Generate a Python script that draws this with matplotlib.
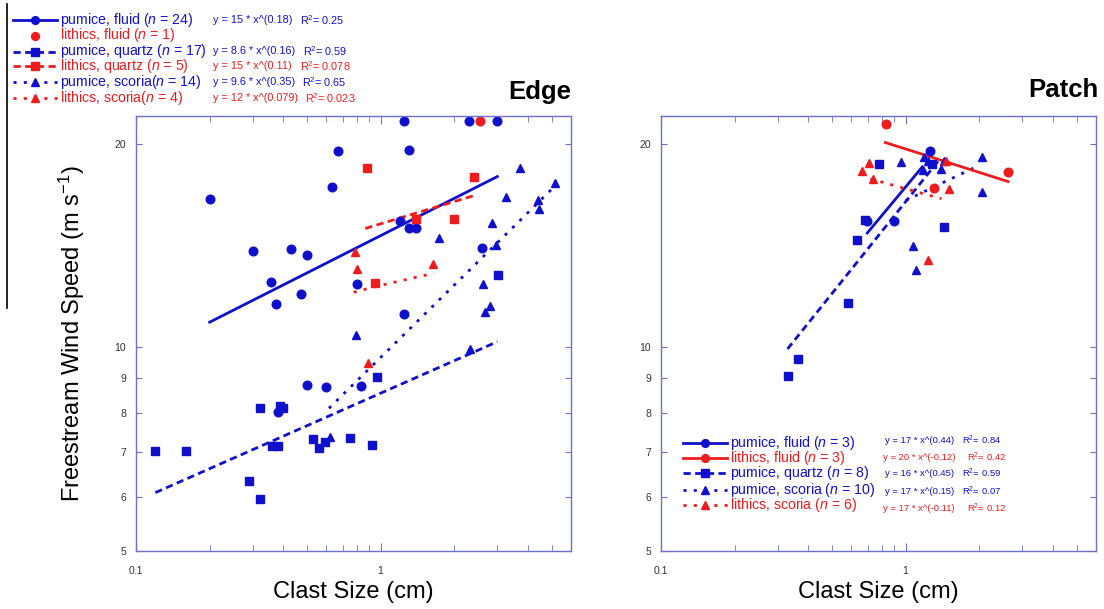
import numpy as np
import matplotlib
matplotlib.use('Agg')
import matplotlib.pyplot as plt
from matplotlib.lines import Line2D
from matplotlib.transforms import Affine2D

plt.rcParams['font.family'] = ['Liberation Sans', 'DejaVu Sans']
plt.rcParams['mathtext.fontset'] = 'custom'
plt.rcParams['mathtext.rm'] = 'Liberation Sans'
plt.rcParams['mathtext.it'] = 'Liberation Sans:italic'

BLUE = '#1010cc'
RED = '#ee1c1c'
SPINE = '#6e6ed2'

# ---- Edge data (clast size cm, wind speed m/s) ----
edge_pf_x = [0.20, 0.30, 0.355, 0.373, 0.43, 0.473, 0.50, 0.633, 0.667, 0.80, 1.245, 1.30,
             1.20, 1.30, 1.40, 1.245, 2.29, 2.99, 2.60, 0.50, 0.60, 0.831, 0.381]
edge_pf_y = [16.6, 13.9, 12.5, 11.6, 14.0, 12.0, 13.7, 17.3, 19.5, 12.4, 21.6, 19.6,
             15.4, 15.0, 15.0, 11.2, 21.6, 21.6, 14.05, 8.81, 8.75, 8.78, 8.02]
edge_lf_x = [2.54]
edge_lf_y = [21.6]
edge_pq_x = [3.03, 0.120, 0.160, 0.290, 0.320, 0.320, 0.388, 0.399, 0.359, 0.381, 0.529,
             0.558, 0.591, 0.750, 0.919, 0.963]
edge_pq_y = [12.8, 7.04, 7.04, 6.35, 5.96, 8.14, 8.19, 8.14, 7.15, 7.15, 7.33,
             7.10, 7.25, 7.35, 7.17, 9.05]
edge_lq_x = [0.877, 2.40, 1.40, 2.00, 0.948]
edge_lq_y = [18.4, 17.9, 15.5, 15.5, 12.45]
edge_ps_x = [3.72, 5.16, 3.26, 4.39, 4.42, 2.84, 1.74, 2.97, 2.62, 2.80, 2.68, 0.795, 2.31, 0.619]
edge_ps_y = [18.4, 17.5, 16.7, 16.5, 16.0, 15.3, 14.5, 14.2, 12.4, 11.5, 11.3, 10.44, 9.94, 7.37]
edge_ls_x = [0.788, 0.803, 1.635, 0.885]
edge_ls_y = [13.85, 13.05, 13.3, 9.47]

# fitted curves
edge_fit_pf = ([0.20, 3.0], [10.9, 17.9])
edge_fit_pq = ([0.12, 3.0], [6.1, 10.2])
edge_fit_lq = ([0.866, 2.44], [15.0, 16.8])
edge_fit_ps = ([0.615, 5.05], [8.13, 17.2])
edge_fit_ls = ([0.776, 0.948, 1.65], [12.07, 12.3, 12.88])

# ---- Patch data ----
patch_pf_x = [1.254, 0.697, 0.899]
patch_pf_y = [19.55, 15.36, 15.36]
patch_lf_x = [0.830, 1.30, 2.62]
patch_lf_y = [21.4, 17.2, 18.2]
patch_pq_x = [0.780, 1.277, 0.681, 0.632, 1.435, 0.581, 0.364, 0.332]
patch_pq_y = [18.67, 18.67, 15.44, 14.43, 15.08, 11.63, 9.61, 9.09]
patch_ps_x = [0.954, 1.188, 1.174, 1.39, 2.05, 2.05, 1.075, 1.099, 1.23, 1.44]
patch_ps_y = [18.8, 19.16, 18.3, 18.35, 19.16, 16.97, 14.14, 13.0, 18.9, 18.9]
patch_ls_x = [0.661, 0.706, 0.733, 1.46, 1.504, 1.23]
patch_ls_y = [18.27, 18.77, 17.76, 18.85, 17.18, 13.48]

patch_fit_pf = ([0.697, 1.17], [14.77, 18.5])
patch_fit_lf = ([0.826, 2.62], [20.1, 17.6])
patch_fit_pq = ([0.329, 1.37], [9.95, 18.94])
patch_fit_ps = ([1.0, 2.0], [16.5, 18.6])
patch_fit_ls = ([0.718, 1.40], [17.76, 16.6])

y_ticks = [5, 6, 7, 8, 9, 10, 20]
x_ticks = [0.1, 1]
x_minor = [0.2, 0.3, 0.4, 0.5, 0.6, 0.7, 0.8, 0.9, 2, 3, 4, 5]

SOLID = '-'
DASH = (0, (2.6, 1.6))
DOT = (0, (1.1, 2.6))

W, H = 1104, 609
fig = plt.figure(figsize=(W / 100, H / 100), dpi=100)
px = Affine2D().scale(1 / W, -1 / H).translate(0, 1) + fig.transFigure


def setup(ax):
    ax.set_xscale('log')
    ax.set_yscale('log')
    ax.set_xlim(0.1, 6)
    ax.set_ylim(5, 22)
    ax.set_yticks(y_ticks)
    ax.set_yticklabels([str(t) for t in y_ticks])
    ax.yaxis.set_minor_locator(matplotlib.ticker.NullLocator())
    ax.set_xticks(x_ticks)
    ax.set_xticklabels(['0.1', '1'])
    ax.set_xticks(x_minor, minor=True)
    ax.xaxis.set_minor_formatter(matplotlib.ticker.NullFormatter())
    for s in ax.spines.values():
        s.set_color(SPINE)
        s.set_linewidth(1.0)
    ax.tick_params(which='both', direction='in', top=True, right=True,
                   color=SPINE, labelsize=7.5, labelcolor='#333333')
    ax.tick_params(axis='x', which='major', length=6, pad=11)
    ax.tick_params(axis='x', which='minor', length=4.5)
    ax.tick_params(axis='y', which='major', length=4, pad=7)
    ax.set_xlabel('Clast Size (cm)', fontsize=17)
    ax.xaxis.set_label_coords(0.5, -0.068)


def pts(ax, x, y, color, marker, ms):
    ax.plot(x, y, linestyle='none', marker=marker, color=color, ms=ms, clip_on=False)


def fit(ax, f, color, ls):
    ax.plot(f[0], f[1], color=color, linestyle=ls, lw=2.0)


ax1 = fig.add_axes([136 / W, 1 - 551 / H, 435 / W, 435 / H])
setup(ax1)
fit(ax1, edge_fit_pf, BLUE, SOLID)
fit(ax1, edge_fit_pq, BLUE, DASH)
fit(ax1, edge_fit_ps, BLUE, DOT)
fit(ax1, edge_fit_lq, RED, DASH)
fit(ax1, edge_fit_ls, RED, DOT)
pts(ax1, edge_pf_x, edge_pf_y, BLUE, 'o', 6.2)
pts(ax1, edge_pq_x, edge_pq_y, BLUE, 's', 5.6)
pts(ax1, edge_ps_x, edge_ps_y, BLUE, '^', 6.0)
pts(ax1, edge_lf_x, edge_lf_y, RED, 'o', 6.2)
pts(ax1, edge_lq_x, edge_lq_y, RED, 's', 5.6)
pts(ax1, edge_ls_x, edge_ls_y, RED, '^', 6.0)
ax1.set_ylabel('Freestream Wind Speed (m s$^{-1}$)', fontsize=17)
ax1.yaxis.set_label_coords(-0.112, 0.5)
ax1.text(1.0, 1 + 17 / 435, 'Edge', transform=ax1.transAxes, ha='right',
         va='baseline', fontsize=18.5, fontweight='bold')

ax2 = fig.add_axes([661 / W, 1 - 551 / H, 435 / W, 435 / H])
setup(ax2)
fit(ax2, patch_fit_pf, BLUE, SOLID)
fit(ax2, patch_fit_pq, BLUE, DASH)
fit(ax2, patch_fit_ps, BLUE, DOT)
fit(ax2, patch_fit_lf, RED, SOLID)
fit(ax2, patch_fit_ls, RED, DOT)
pts(ax2, patch_pf_x, patch_pf_y, BLUE, 'o', 6.2)
pts(ax2, patch_pq_x, patch_pq_y, BLUE, 's', 5.6)
pts(ax2, patch_ps_x, patch_ps_y, BLUE, '^', 6.0)
pts(ax2, patch_lf_x, patch_lf_y, RED, 'o', 6.2)
pts(ax2, patch_ls_x, patch_ls_y, RED, '^', 6.0)
ax2.text(1.0 + 3 / 435, 1 + 19 / 435, 'Patch', transform=ax2.transAxes, ha='right',
         va='baseline', fontsize=18.5, fontweight='bold')


# ---- legends drawn in pixel coordinates ----
def legend_row(x0, x1, y, color, ls, marker, ms, label, eq, r2, eq_x, r2_x,
               eq_y=None, eq_fs=7.8):
    if ls is not None:
        fig.add_artist(Line2D([x0, x1], [y, y], transform=px, color=color,
                              linestyle=ls, lw=2.0))
    fig.add_artist(Line2D([(x0 + x1) / 2], [y], transform=px, color=color,
                          marker=marker, ms=ms, linestyle='none'))
    fig.text(x1 + 3, y, label, transform=px, color=color, fontsize=10.2,
             ha='left', va='center')
    if eq:
        ey = y if eq_y is None else eq_y
        fig.text(eq_x, ey, eq, transform=px, color=color, fontsize=eq_fs,
                 ha='left', va='center')
        fig.text(r2_x, ey, r2, transform=px, color=color, fontsize=eq_fs,
                 ha='left', va='center')


edge_rows = [
    (20, BLUE, SOLID, 'o', 'pumice, fluid ($n$ = 24)', 'y = 15 * x^(0.18)', 'R$^2$= 0.25', 300),
    (35.5, RED, None, 'o', 'lithics, fluid ($n$ = 1)', None, None, 0),
    (51.5, BLUE, DASH, 's', 'pumice, quartz ($n$ = 17)', 'y = 8.6 * x^(0.16)', 'R$^2$= 0.59', 303),
    (66, RED, DASH, 's', 'lithics, quartz ($n$ = 5)', 'y = 15 * x^(0.11)', 'R$^2$= 0.078', 300),
    (82, BLUE, DOT, '^', 'pumice, scoria($n$ = 14)', 'y = 9.6 * x^(0.35)', 'R$^2$= 0.65', 302),
    (98, RED, DOT, '^', 'lithics, scoria($n$ = 4)', 'y = 12 * x^(0.079)', 'R$^2$= 0.023', 305),
]
for y, c, ls, m, lab, eq, r2, rx in edge_rows:
    legend_row(13, 57, y, c, ls, m, 5.6, lab, eq, r2, 213, rx)

patch_rows = [
    (443.3, 440.7, BLUE, SOLID, 'o', 'pumice, fluid ($n$ = 3)', 'y = 17 * x^(0.44)', 'R$^2$= 0.84', 885, 962),
    (458.3, 457.3, RED, SOLID, 'o', 'lithics, fluid ($n$ = 3)', 'y = 20 * x^(-0.12)', 'R$^2$= 0.42', 883, 967),
    (473.3, 473.3, BLUE, DASH, 's', 'pumice, quartz ($n$ = 8)', 'y = 16 * x^(0.45)', 'R$^2$= 0.59', 885, 962),
    (490, 491, BLUE, DOT, '^', 'pumice, scoria ($n$ = 10)', 'y = 17 * x^(0.15)', 'R$^2$= 0.07', 885, 962),
    (505, 508.3, RED, DOT, '^', 'lithics, scoria ($n$ = 6)', 'y = 17 * x^(-0.11)', 'R$^2$= 0.12', 883, 967),
]
for y, ey, c, ls, m, lab, eq, r2, ex, rx in patch_rows:
    legend_row(683, 727, y, c, ls, m, 5.6, lab, eq, r2, ex, rx, eq_y=ey, eq_fs=6.8)

# thin black rule at the far left
fig.add_artist(Line2D([7.3, 7.3], [4, 308], transform=px, color='black', lw=1.2))

fig.savefig('out.png', dpi=100)
